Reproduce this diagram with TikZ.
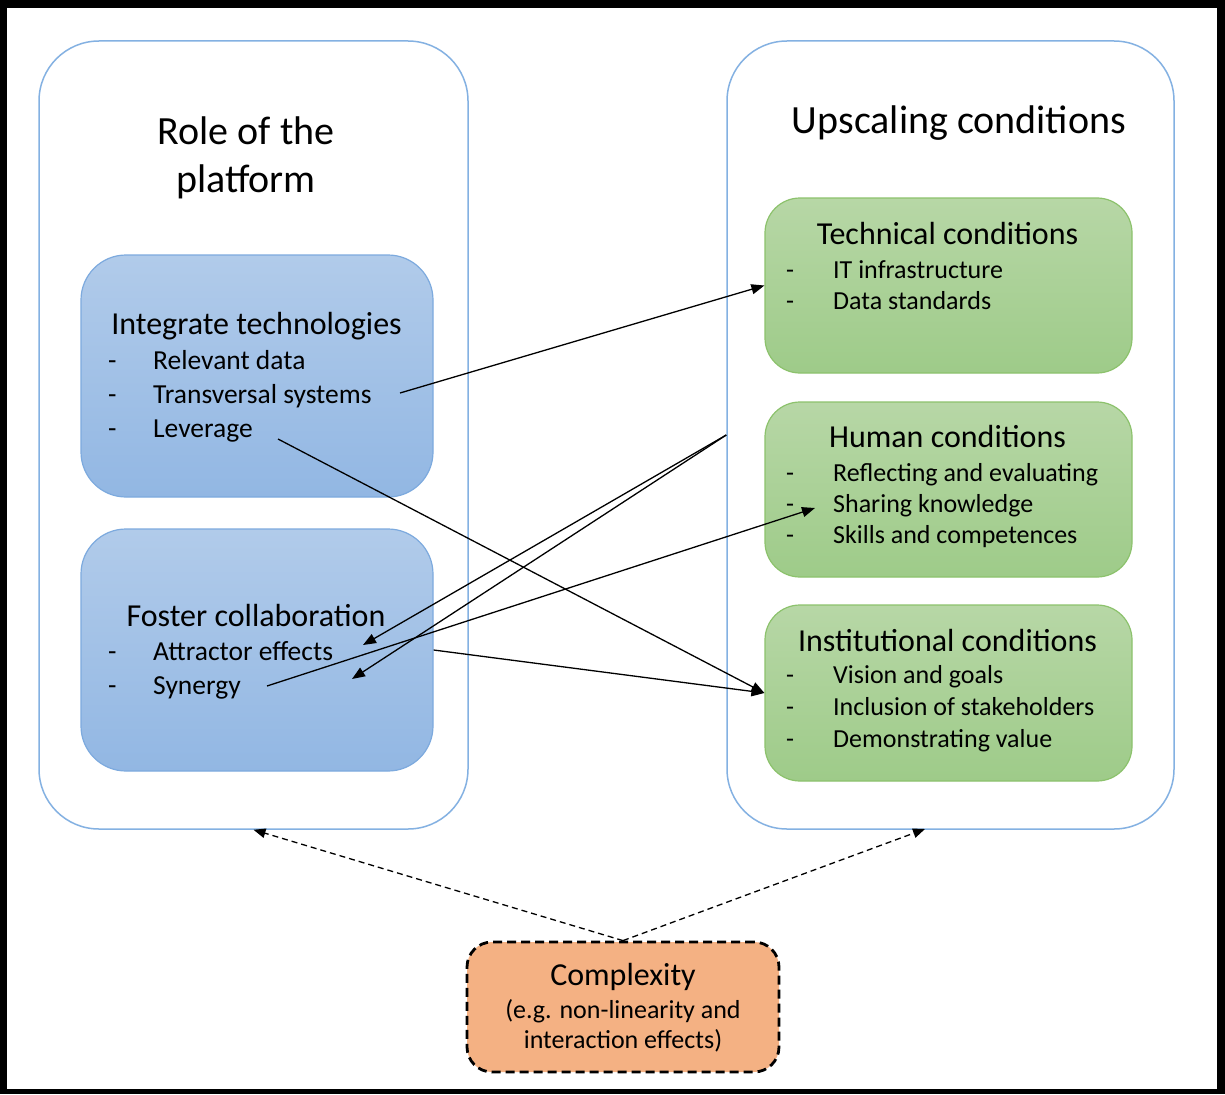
\documentclass[tikz,border=0pt]{standalone}
\usepackage{fontspec}
\setmainfont{Carlito}
\usetikzlibrary{arrows.meta}

\definecolor{outerline}{RGB}{132,177,226}
\definecolor{bluetop}{RGB}{177,203,234}
\definecolor{bluebot}{RGB}{146,183,227}
\definecolor{blueline}{RGB}{125,170,222}
\definecolor{greentop}{RGB}{183,215,166}
\definecolor{greenbot}{RGB}{158,203,137}
\definecolor{greenline}{RGB}{140,194,108}
\definecolor{orangefill}{RGB}{244,177,131}

\newcommand{\itemdash}[1]{\makebox[#1][l]{-}}

\begin{document}
\begin{tikzpicture}[x=1pt,y=-1pt,
  outerbox/.style={draw=outerline, line width=1.5pt, rounded corners=60pt,
    minimum width=429pt, minimum height=788pt, inner sep=0pt},
  bluebox/.style={draw=blueline, line width=1.2pt, rounded corners=45pt,
    top color=bluetop, bottom color=bluebot,
    minimum width=352pt, minimum height=242pt, inner sep=0pt},
  greenbox/.style={draw=greenline, line width=1.2pt, rounded corners=35pt,
    top color=greentop, bottom color=greenbot,
    minimum width=367pt, minimum height=175pt, inner sep=0pt},
  cplxbox/.style={draw=black, line width=2.8pt, dash pattern=on 9pt off 5pt,
    rounded corners=25pt, fill=orangefill,
    minimum width=312pt, minimum height=130pt, inner sep=0pt},
  title/.style={font=\fontsize{40}{48}\selectfont, inner sep=0pt, anchor=base},
  header/.style={font=\fontsize{32}{38}\selectfont, inner sep=0pt, anchor=base},
  blueitem/.style={font=\fontsize{27.5}{33}\selectfont, inner sep=0pt, anchor=base west},
  greenitem/.style={font=\fontsize{26}{31}\selectfont, inner sep=0pt, anchor=base west},
  subline/.style={font=\fontsize{26}{31}\selectfont, inner sep=0pt, anchor=base},
  link/.style={line width=1.3pt, -{Triangle[length=13pt,width=10pt]}},
  influence/.style={line width=1.3pt, dash pattern=on 6pt off 4pt,
    -{Triangle[length=12pt,width=9.5pt]}}
]
\useasboundingbox (0,0) rectangle (1225,1094);

% black frame
\fill[black] (0,0) rectangle (1225,1094);
\fill[white] (7,8) rectangle (1217,1089);

% two large containers
\node[outerbox] (role) at (253.5,435) {};
\node[outerbox, minimum width=447pt] (upsc) at (950.5,435) {};

\node[title] (roleA) at (246,145) {Role of the};
\node[title] (roleB) at (246,193) {platform};
\node[title] (upsctitle) at (959,134) {Upscaling conditions};

% role of the platform
\node[bluebox] (integ) at (257,376) {};
\node[header] (integH) at (256.5,334) {Integrate technologies};
\node[blueitem] (relev) at (108,369) {\itemdash{45pt}Relevant data};
\node[blueitem] (transv) at (108,403) {\itemdash{45pt}Transversal systems};
\node[blueitem] (lever) at (108,437) {\itemdash{45pt}Leverage};

\node[bluebox] (foster) at (257,650) {};
\node[header] (fosterH) at (256,626) {Foster collaboration};
\node[blueitem] (attr) at (108,660) {\itemdash{45pt}Attractor effects};
\node[blueitem] (syn) at (108,694) {\itemdash{45pt}Synergy};

% upscaling conditions
\node[greenbox] (tech) at (948.5,285.5) {};
\node[header] (techH) at (947.5,244) {Technical conditions};
\node[greenitem] (itinf) at (786,278) {\itemdash{47pt}IT infrastructure};
\node[greenitem] (datast) at (786,309) {\itemdash{47pt}Data standards};

\node[greenbox] (human) at (948.5,489.5) {};
\node[header] (humanH) at (947.5,447) {Human conditions};
\node[greenitem] (refl) at (786,481) {\itemdash{47pt}Reflecting and evaluating};
\node[greenitem] (share) at (786,512) {\itemdash{47pt}Sharing knowledge};
\node[greenitem] (skills) at (786,543) {\itemdash{47pt}Skills and competences};

\node[greenbox, minimum height=176pt] (inst) at (948.5,693) {};
\node[header] (instH) at (947.5,651) {Institutional conditions};
\node[greenitem] (vision) at (786,683) {\itemdash{47pt}Vision and goals};
\node[greenitem] (incl) at (786,715) {\itemdash{47pt}Inclusion of stakeholders};
\node[greenitem] (demo) at (786,747) {\itemdash{47pt}Demonstrating value};

% complexity
\node[cplxbox] (cplx) at (623,1007) {};
\node[header] (cplxH) at (623,985) {Complexity};
\node[subline] (cplxA) at (623,1018) {(e.g. non-linearity and};
\node[subline] (cplxB) at (623,1048) {interaction effects)};

% connector end points
\coordinate (transvEnd) at (400,393);
\coordinate (leverEnd) at (278,439);
\coordinate (synEnd) at (267,686);
\coordinate (shareTip) at (815,508);
\coordinate (attrTip) at (363,645);
\coordinate (synTip) at (352,679);
\coordinate (upscFoot) at (925,829);

% links
\draw[link] (transvEnd) -- (tech.west);
\draw[link] (leverEnd) -- (inst.west);
\draw[link] (foster.east) -- (inst.west);
\draw[link] (synEnd) -- (shareTip);
\draw[link] (upsc.west) -- (attrTip);
\draw[link] (upsc.west) -- (synTip);

% influence of complexity
\draw[influence] (cplx.north) -- (role.south);
\draw[influence] (cplx.north) -- (upscFoot);
\end{tikzpicture}
\end{document}
